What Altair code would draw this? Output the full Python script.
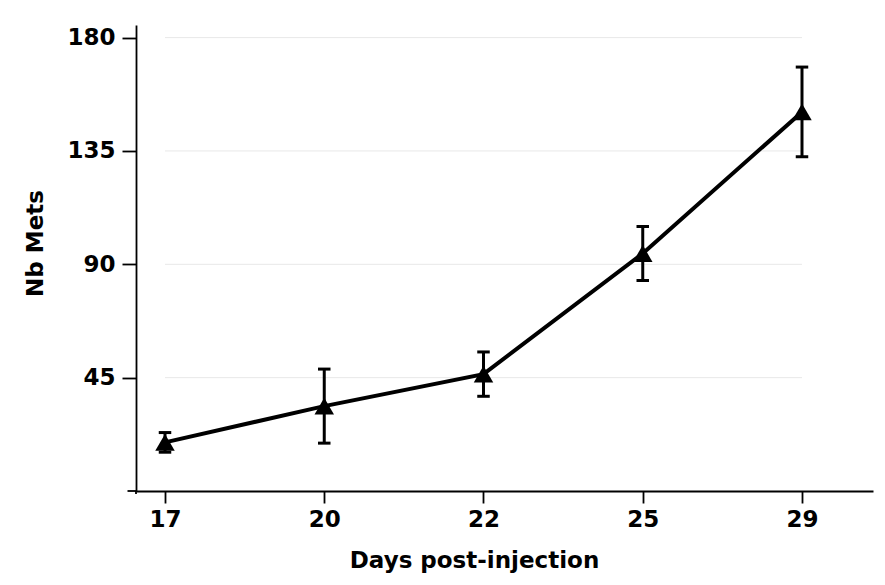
import altair as alt
import pandas as pd

# ---- data ----
days = ["17", "20", "22", "25", "29"]
mets_mean = [19.3, 33.7, 46.4, 94.3, 150.5]
mets_err = [3.9, 14.7, 8.8, 10.7, 17.8]
y_ticks = [45, 90, 135, 180]

df = pd.DataFrame({"day": days, "mean": mets_mean, "err": mets_err})
df["lo"] = df["mean"] - df["err"]
df["hi"] = df["mean"] + df["err"]

grid_df = pd.DataFrame({"gy": y_ticks, "x0": days[0], "x1": days[-1]})

FONT = "DejaVu Sans"
W, H = 737, 466

x_scale = alt.Scale(type="point", domain=days, padding=0.314, align=0.29)
y_scale = alt.Scale(domain=[0, 185], nice=False, zero=True)

x_axis = alt.Axis(
    title="Days post-injection", labelAngle=0, tickSize=12, labelPadding=5,
    titleX=338, titleY=76, titleBaseline="alphabetic", titleAlign="center",
)
y_axis = alt.Axis(
    title="Nb Mets", values=y_ticks, tickSize=14, labelPadding=7,
    titleAngle=270, titleX=-94, titleY=218, titleAlign="center",
    titleBaseline="alphabetic", grid=False,
)


def X(field):
    return alt.X(field, type="ordinal", scale=x_scale, axis=x_axis, sort=days)


def Y(field):
    return alt.Y(field, type="quantitative", scale=y_scale, axis=y_axis)


grid = alt.Chart(grid_df).mark_rule(color="#e8e8e8", strokeWidth=1).encode(
    x=X("x0"), x2="x1", y=Y("gy")
)

# small axis-line overhangs at the origin corner (decoration only)
corner_df = pd.DataFrame({"k": [0]})
corner_h = alt.Chart(corner_df).mark_rule(color="black", strokeWidth=1.8).encode(
    x=alt.value(-8.5), x2=alt.value(0), y=alt.value(H)
)
corner_v = alt.Chart(corner_df).mark_rule(color="black", strokeWidth=1.8).encode(
    x=alt.value(0), y=alt.value(H), y2=alt.value(H + 3)
)

base = alt.Chart(df)
line = base.mark_line(color="black", strokeWidth=4).encode(x=X("day"), y=Y("mean"))
bars = base.mark_rule(color="black", strokeWidth=3).encode(x=X("day"), y=Y("lo"), y2="hi")
cap_lo = base.mark_tick(color="black", size=12.5, thickness=3, opacity=1).encode(x=X("day"), y=Y("lo"))
cap_hi = base.mark_tick(color="black", size=12.5, thickness=3, opacity=1).encode(x=X("day"), y=Y("hi"))
pts = base.mark_point(shape="triangle-up", filled=True, size=380, color="black", opacity=1).encode(
    x=X("day"), y=Y("mean")
)

chart = (
    alt.layer(grid, corner_h, corner_v, line, bars, cap_lo, cap_hi, pts)
    .properties(
        width=W,
        height=H,
        autosize=alt.AutoSizeParams(type="none"),
        padding={"left": 128, "top": 17, "right": 4, "bottom": 90},
        background="white",
    )
    .configure_view(stroke=None)
    .configure_axis(
        domainColor="black", domainWidth=1.8, tickColor="black", tickWidth=1.8,
        labelFont=FONT, labelFontSize=23, labelFontWeight="bold", labelColor="black",
        titleFont=FONT, titleFontSize=23, titleFontWeight="bold", titleColor="black",
        grid=False,
    )
)

chart.save("out.html", embed_options={"renderer": "svg", "actions": False})
